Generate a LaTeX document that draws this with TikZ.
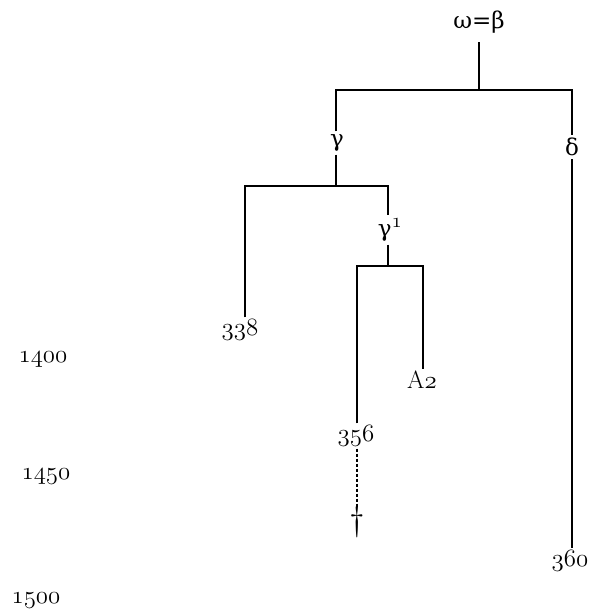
\documentclass[tikz,border=0pt]{standalone}
\usepackage{fontspec}
\newfontfamily\grk{DejaVu Serif}
\newcommand{\osn}[1]{$\mathnormal{#1}$}
\begin{document}
\begin{tikzpicture}[x=1pt,y=1pt,
  lbl/.style={inner sep=2pt,font=\fontsize{25}{28}\selectfont},
  glbl/.style={inner sep=3pt,font=\fontsize{23}{26}\selectfont\grk},
  ln/.style={line width=1.7pt},
  dln/.style={line width=1.7pt,dash pattern=on 3pt off 2pt}]
\useasboundingbox (0,0) rectangle (604,-614);
% nodes
\node[glbl] (omega) at (479,-22) {ω=β};
\node[glbl] (gamma) at (337,-143) {γ};
\node[glbl] (delta) at (572,-147) {δ};
\node[glbl] (gammap) at (390,-230) {γ\textsuperscript{\fontsize{20}{22}\selectfont\osn{1}}};
\node[lbl] (n338) at (240,-330) {\osn{338}};
\node[lbl] (A2) at (422,-380) {A\osn{2}};
\node[lbl] (n356) at (356,-436) {\osn{356}};
\node[lbl,font=\fontsize{34}{36}\selectfont,inner sep=0pt] (dag) at (357,-522) {\textdagger};
\node[lbl] (n360) at (570,-561) {\osn{360}};
\node[lbl] (y1400) at (43,-360) {\osn{1400}};
\node[lbl] (y1450) at (46,-477) {\osn{1450}};
\node[lbl] (y1500) at (36,-601) {\osn{1500}};
% junctions
\coordinate (j1) at (479,-90);
\coordinate (j2) at (336,-186);
\coordinate (j3) at (388,-266);
% connectors
\draw[ln] (omega.south -| j1) ++(0,-6) -- (j1);
\draw[ln] (gamma.north -| j2) -- (j2 |- j1) -- (572,-90) -- (delta.north -| 572,0);
\draw[ln] (gamma.south -| j2) -- (j2);
\draw[ln] (n338.north -| 245,0) -- (245,-186) -- (j3 |- j2) -- (gammap.north -| j3);
\draw[ln] (gammap.south -| j3) -- (j3);
\draw[ln] (n356.north -| 357,0) -- (357,-266) -- (423,-266) -- (A2.north -| 423,0);
\draw[dln] (n356.south -| 357,0) -- (357,-508);
\draw[ln] (delta.south -| 572,0) -- (n360.north -| 572,0);
\end{tikzpicture}
\end{document}
